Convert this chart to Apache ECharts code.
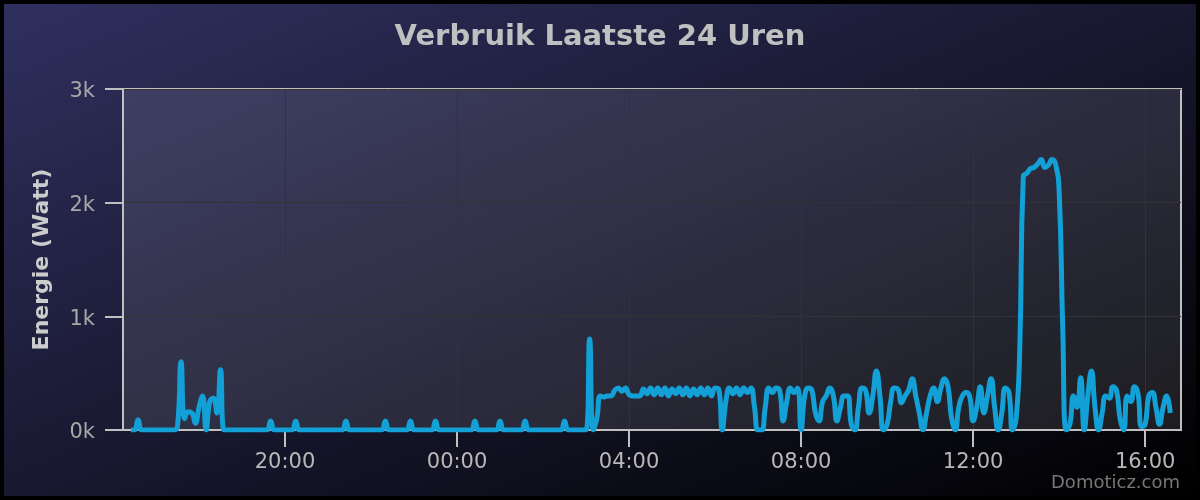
<!DOCTYPE html>
<html>
<head>
<meta charset="utf-8">
<script src="https://cdn.jsdelivr.net/npm/echarts@6/dist/echarts.min.js"></script>
<style>
html,body{margin:0;padding:0;background:#000;}
#chart{width:1200px;height:500px;}
</style>
</head>
<body>
<div id="chart"></div>
<script>
// Data: power usage in Watt, one sample every 5 minutes, starting 16:25 (hours since midnight of day 1)
const titleText = 'Verbruik Laatste 24 Uren';
const yAxisTitle = 'Energie (Watt)';
const creditText = 'Domoticz.com';
const startHour = 16 + 25 / 60;
const stepMinutes = 5;
const xMinHour = 16 + 14 / 60;
const xMaxHour = 40 + 50 / 60;
const xTickHours = [20, 24, 28, 32, 36, 40];
const watts = [
  0,0,90,0,0,0,0,0,0,0,
  0,0,0,30,600,100,160,150,60,200,
  300,0,250,280,150,530,0,0,0,0,
  0,0,0,0,0,0,0,0,0,80,
  0,0,0,0,0,0,80,0,0,0,
  0,0,0,0,0,0,0,0,0,0,
  80,0,0,0,0,0,0,0,0,0,
  0,80,0,0,0,0,0,0,80,0,
  0,0,0,0,0,80,0,0,0,0,
  0,0,0,0,0,0,80,0,0,0,
  0,0,0,80,0,0,0,0,0,0,
  80,0,0,0,0,0,0,0,0,0,
  0,80,0,0,0,0,0,0,800,0,
  100,300,290,300,300,350,370,340,370,310,
  300,300,300,360,320,370,310,370,310,370,
  300,360,320,370,310,370,300,360,310,370,
  310,370,300,370,360,0,250,370,320,370,
  310,370,330,370,200,0,0,200,370,330,
  370,350,80,250,370,330,370,0,300,370,
  350,150,80,250,300,370,300,80,200,300,
  300,50,0,200,370,350,150,300,520,300,
  0,50,250,370,360,240,300,350,450,300,
  150,0,150,300,370,250,370,450,380,100,
  0,200,300,330,300,80,200,380,150,300,
  450,200,0,150,370,330,0,100,700,2230,
  2260,2300,2310,2340,2380,2310,2330,2380,2340,2100,
  900,0,50,300,200,460,0,300,520,200,
  0,150,300,280,380,350,100,0,300,250,
  380,320,30,50,300,330,200,50,200,300,150
];

const seriesData = watts.map((w, i) => [startHour + i * stepMinutes / 60, w]);
const pad = n => (n < 10 ? '0' : '') + n;

// bounding-box style diagonal gradient (isolines parallel to the anti-diagonal)
const W = 1200, H = 500;
const k = 2 * W * H / (W * W + H * H);
const bg = new echarts.graphic.LinearGradient(0, 0, H * k, W * k, [
  {offset: 0, color: 'rgb(48,48,96)'},
  {offset: 1, color: 'rgb(0,0,0)'}
], true);

const chart = echarts.init(document.getElementById('chart'), null, {renderer: 'canvas'});
chart.setOption({
  backgroundColor: bg,
  animation: false,
  title: {
    text: titleText,
    left: 'center',
    top: 18,
    textStyle: {color: '#c0c0c0', fontFamily: 'DejaVu Sans', fontWeight: 'bold', fontSize: 29}
  },
  grid: {
    left: 123, right: 19, top: 89, bottom: 70,
    show: true,
    backgroundColor: 'rgba(255,255,255,0.1)',
    borderColor: '#c0c0c0',
    borderWidth: 2
  },
  xAxis: {
    type: 'value',
    min: xMinHour,
    max: xMaxHour,
    axisLine: {show: true, lineStyle: {color: '#c0c0c0', width: 2}},
    axisTick: {show: true, length: 17, customValues: xTickHours, lineStyle: {color: '#c0c0c0', width: 2}},
    axisLabel: {
      customValues: xTickHours,
      margin: 22,
      color: '#b8b8b8',
      fontFamily: 'DejaVu Sans',
      fontSize: 21,
      formatter: v => pad(Math.round(v) % 24) + ':00'
    },
    splitLine: {show: true, lineStyle: {color: '#333333', width: 1}}
  },
  yAxis: {
    type: 'value',
    min: 0,
    max: 3000,
    interval: 1000,
    name: yAxisTitle,
    nameLocation: 'middle',
    nameGap: 70,
    nameRotate: 90,
    nameTextStyle: {color: '#cccccc', fontFamily: 'DejaVu Sans', fontWeight: 'bold', fontSize: 22},
    axisLine: {show: true, lineStyle: {color: '#c0c0c0', width: 2}},
    axisTick: {show: true, length: 18, lineStyle: {color: '#c0c0c0', width: 2}},
    axisLabel: {
      margin: 28,
      verticalAlign: 'top',
      lineHeight: 6,
      color: '#a8a8a8',
      fontFamily: 'DejaVu Sans',
      fontSize: 21,
      formatter: v => (v / 1000) + 'k'
    },
    splitLine: {show: true, lineStyle: {color: '#333333', width: 1}}
  },
  graphic: [
    {type: 'rect', shape: {x: 0, y: 0, width: 1200, height: 500}, style: {fill: 'none', stroke: '#000', lineWidth: 8}, silent: true, z: 100},
    {type: 'text', right: 20, bottom: 8, style: {text: creditText, fill: '#777777', font: '18px "DejaVu Sans"'}, z: 100}
  ],
  series: [{
    type: 'line',
    data: seriesData,
    showSymbol: false,
    smooth: 0.5,
    lineStyle: {color: '#12a0d7', width: 5},
    itemStyle: {color: '#12a0d7'}
  }]
});
</script>
</body>
</html>
